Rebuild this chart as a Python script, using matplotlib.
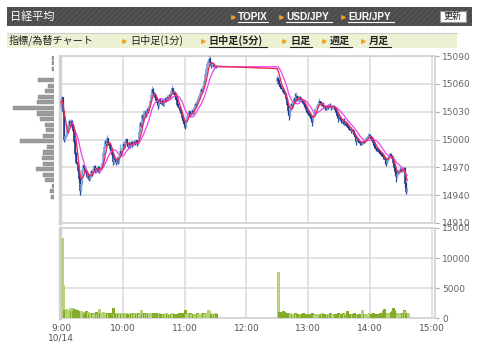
import matplotlib
matplotlib.use("Agg")
import matplotlib.pyplot as plt
import numpy as np
import pandas as pd
from matplotlib.patches import Rectangle

plt.rcParams['font.family'] = ['DejaVu Sans', 'Noto Sans CJK JP']

# 1-minute closes, 9:00 - 11:30
am_close = [15040, 15045, 15030, 15000, 15003, 15005, 15010, 15015, 15020, 15016,
            15020, 15014, 15009, 14998, 14985, 14975, 14966, 14958, 14945, 14952,
            14967, 14972, 14970, 14966, 14964, 14960, 14962, 14957, 14960, 14966,
            14963, 14968, 14971, 14966, 14969, 14967, 14970, 14966, 14968, 14970,
            14974, 14985, 14992, 14998, 14995, 15001, 14996, 14994, 14990, 14984,
            14976, 14980, 14978, 14975, 14980, 14976, 14982, 14987, 14985, 14990,
            14995, 14992, 14998, 15000, 14995, 14992, 14996, 14993, 14997, 14994,
            14995, 14998, 14996, 14999, 14995, 14997, 15008, 15018, 15015, 15026,
            15022, 15030, 15026, 15033, 15031, 15036, 15041, 15048, 15054, 15050,
            15049, 15045, 15043, 15040, 15036, 15043, 15041, 15039, 15042, 15038,
            15041, 15044, 15042, 15046, 15045, 15048, 15047, 15052, 15055, 15051,
            15050, 15046, 15043, 15038, 15035, 15031, 15029, 15024, 15020, 15017,
            15015, 15020, 15025, 15028, 15030, 15026, 15027, 15031, 15030, 15034,
            15038, 15037, 15041, 15044, 15047, 15050, 15054, 15052, 15057, 15063,
            15070, 15076, 15081, 15084, 15087, 15083, 15079, 15081, 15078, 15079,
            15078]
am_up = [5, 2, 1, 2, 1, 1, 2, 1, 2, 1,
         2, 1, 1, 1, 1, 1, 1, 2, 1, 1,
         2, 1, 2, 1, 1, 2, 1, 1, 2, 1,
         1, 2, 1, 2, 1, 1, 2, 1, 1, 2,
         1, 3, 4, 3, 2, 4, 1, 1, 2, 1,
         1, 2, 1, 1, 2, 1, 2, 8, 2, 1,
         2, 1, 3, 2, 1, 1, 2, 1, 2, 1,
         1, 2, 1, 2, 1, 1, 3, 2, 1, 2,
         1, 2, 1, 2, 1, 2, 2, 4, 4, 1,
         1, 1, 2, 1, 1, 2, 1, 1, 2, 1,
         1, 2, 1, 2, 1, 2, 1, 4, 4, 1,
         1, 1, 2, 1, 1, 1, 2, 1, 1, 1,
         1, 2, 2, 1, 2, 1, 1, 2, 1, 2,
         2, 1, 2, 1, 2, 2, 2, 1, 2, 2,
         2, 2, 3, 3, 4, 2, 1, 2, 1, 1,
         1]
am_dn = [3, 2, 3, 3, 2, 1, 1, 2, 1, 2,
         1, 2, 1, 2, 2, 1, 2, 4, 5, 2,
         1, 1, 2, 1, 2, 1, 2, 2, 1, 1,
         2, 1, 1, 2, 1, 2, 1, 2, 1, 1,
         1, 1, 2, 1, 2, 1, 2, 1, 2, 2,
         3, 2, 1, 2, 1, 2, 1, 1, 2, 1,
         1, 2, 1, 1, 2, 2, 1, 2, 1, 2,
         1, 1, 2, 1, 2, 1, 1, 1, 2, 1,
         2, 1, 2, 1, 2, 1, 1, 1, 1, 2,
         1, 2, 1, 2, 3, 1, 2, 1, 2, 2,
         2, 1, 2, 1, 1, 1, 2, 1, 1, 2,
         1, 2, 1, 2, 1, 2, 1, 2, 2, 3,
         4, 1, 1, 2, 1, 2, 1, 1, 2, 1,
         1, 2, 1, 1, 1, 1, 1, 2, 1, 1,
         1, 1, 1, 1, 1, 2, 2, 1, 2, 1,
         1]
am_vol = [13400, 5500, 1300, 1200, 1500, 1400, 1100, 1300, 1700, 1200,
          1600, 1100, 1500, 1300, 1200, 1400, 900, 1000, 1200, 1100,
          800, 1000, 700, 900, 1200, 800, 1000, 700, 900, 800,
          900, 700, 800, 1000, 700, 800, 1500, 900, 800, 700,
          1000, 700, 900, 600, 800, 700, 900, 600, 800, 700,
          1600, 600, 900, 700, 800, 700, 700, 800, 600, 700,
          800, 600, 700, 900, 600, 700, 800, 600, 700, 900,
          600, 800, 700, 600, 900, 700, 800, 1400, 700, 800,
          800, 600, 700, 900, 700, 800, 600, 700, 900, 800,
          700, 600, 800, 700, 600, 800, 700, 600, 500, 700,
          600, 800, 700, 600, 500, 700, 600, 800, 700, 600,
          700, 500, 600, 700, 800, 600, 700, 900, 600, 700,
          1400, 700, 600, 900, 700, 800, 600, 500, 700, 600,
          700, 800, 600, 500, 700, 600, 800, 900, 700, 600,
          800, 700, 1400, 1100, 900, 700, 500, 600, 700, 800,
          600]
am_first_open = 15035

# 1-minute closes, 12:30 - 14:36
pm_close = [15066, 15063, 15060, 15057, 15055, 15052, 15050, 15049, 15044, 15038,
            15031, 15026, 15032, 15038, 15036, 15040, 15044, 15041, 15047, 15045,
            15042, 15046, 15044, 15043, 15041, 15040, 15037, 15035, 15032, 15030,
            15028, 15027, 15025, 15022, 15020, 15026, 15030, 15033, 15036, 15038,
            15041, 15040, 15037, 15038, 15036, 15035, 15034, 15033, 15036, 15035,
            15037, 15036, 15034, 15035, 15036, 15035, 15032, 15030, 15026, 15023,
            15024, 15022, 15020, 15019, 15021, 15017, 15018, 15016, 15015, 15013,
            15011, 15009, 15010, 15008, 15005, 15003, 14998, 15001, 14999, 14997,
            14996, 14995, 14997, 14998, 14997, 14999, 15001, 15002, 15004, 15005,
            15003, 15001, 14999, 14996, 14993, 14991, 14990, 14989, 14988, 14987,
            14985, 14984, 14983, 14981, 14978, 14975, 14978, 14981, 14983, 14984,
            14982, 14980, 14975, 14970, 14965, 14961, 14963, 14965, 14967, 14968,
            14966, 14968, 14967, 14969, 14952, 14944, 14946]
pm_up = [3, 1, 2, 1, 1, 2, 1, 1, 1, 2,
         1, 1, 2, 2, 1, 2, 2, 6, 4, 1,
         2, 1, 1, 2, 1, 1, 1, 2, 1, 1,
         1, 1, 2, 1, 1, 1, 2, 1, 2, 2,
         4, 1, 2, 1, 2, 1, 1, 2, 1, 2,
         1, 2, 1, 2, 1, 1, 1, 2, 1, 1,
         1, 1, 2, 1, 1, 2, 1, 2, 1, 1,
         1, 2, 1, 1, 2, 1, 2, 1, 1, 2,
         1, 2, 1, 1, 2, 1, 2, 1, 3, 2,
         1, 1, 2, 1, 1, 2, 1, 1, 2, 1,
         1, 2, 1, 1, 1, 2, 2, 1, 2, 1,
         1, 1, 2, 1, 1, 2, 1, 2, 1, 2,
         1, 2, 2, 1, 1, 2, 2]
pm_dn = [2, 3, 2, 2, 1, 2, 1, 2, 3, 2,
         5, 5, 2, 1, 2, 1, 2, 1, 1, 2,
         1, 2, 1, 1, 2, 1, 2, 1, 2, 1,
         2, 1, 2, 3, 5, 1, 1, 2, 1, 1,
         1, 2, 1, 1, 2, 1, 2, 1, 1, 2,
         1, 1, 2, 1, 2, 1, 2, 1, 3, 4,
         2, 1, 2, 1, 3, 1, 2, 1, 2, 1,
         1, 2, 1, 2, 1, 2, 4, 1, 2, 1,
         2, 1, 1, 2, 1, 1, 1, 2, 1, 1,
         1, 2, 1, 2, 2, 1, 2, 1, 1, 2,
         1, 2, 1, 2, 4, 4, 1, 2, 1, 1,
         2, 1, 2, 3, 4, 7, 2, 1, 2, 1,
         1, 2, 1, 2, 3, 3, 1]
pm_vol = [7700, 1000, 800, 1000, 600, 1100, 1000, 600, 700, 800,
          700, 600, 800, 700, 500, 600, 700, 800, 600, 700,
          600, 700, 500, 600, 800, 600, 700, 500, 600, 700,
          600, 700, 500, 800, 600, 500, 700, 600, 500, 600,
          700, 500, 600, 800, 600, 700, 500, 600, 700, 500,
          600, 900, 700, 600, 500, 600, 700, 500, 900, 600,
          500, 600, 700, 800, 600, 500, 700, 1100, 600, 500,
          600, 500, 700, 600, 800, 500, 700, 600, 500, 700,
          600, 500, 1400, 700, 600, 700, 500, 600, 800, 700,
          600, 700, 900, 600, 700, 500, 600, 700, 600, 800,
          700, 900, 1100, 1500, 800, 600, 700, 900, 800, 700,
          1000, 1200, 1700, 1300, 800, 700, 600, 900, 800, 700,
          800, 600, 1400, 1200, 800, 700, 900]
pm_first_open = 15062

# price-volume profile (left side)
profile_price = [15088, 15082, 15076, 15070, 15064, 15058, 15052, 15046, 15040,
                 15034, 15028, 15022, 15016, 15010, 15004, 14998, 14992, 14986,
                 14980, 14974, 14968, 14962, 14956, 14950, 14944, 14938]
profile_vol = [2.6, 2.6, 2.6, 0, 16.6, 6, 9, 16, 17.6,
               41.6, 17.6, 14, 9, 8, 11.6, 34, 7.6, 11,
               12.6, 11, 18.6, 11, 9, 2.6, 4.3, 3.3]

hour_ticks = [0, 60, 120, 180, 240, 300, 360]
hour_labels = ["9:00\n10/14", "10:00", "11:00", "12:00", "13:00", "14:00", "15:00"]
price_ticks = [14910, 14940, 14970, 15000, 15030, 15060, 15090]
vol_ticks = [0, 5000, 10000, 15000]

# ---- derived series ----
am_t = np.arange(len(am_close))
pm_t = 210 + np.arange(len(pm_close))
t = np.concatenate([am_t, pm_t])
close = np.array(am_close + pm_close, dtype=float)
opn = np.array([am_first_open] + am_close[:-1] + [pm_first_open] + pm_close[:-1], dtype=float)
high = np.maximum(opn, close) + np.array(am_up + pm_up)
low = np.minimum(opn, close) - np.array(am_dn + pm_dn)
vol = np.array(am_vol + pm_vol)
rising = close >= opn

s = pd.Series(close)
ma_short = s.rolling(5, min_periods=1).mean()
ma_long = s.rolling(12).mean()

W, H = 480, 356
fig = plt.figure(figsize=(4.8, 3.56), dpi=100)


def box(x0, y0, x1, y1):
    return [x0 / W, 1 - y1 / H, (x1 - x0) / W, (y1 - y0) / H]


grid_c = '#dadada'
spine_c = '#d2d2d2'
tick_c = '#666666'

# header overlay in pixel coordinates
ax0 = fig.add_axes([0, 0, 1, 1])
ax0.set_xlim(0, W)
ax0.set_ylim(H, 0)
ax0.axis('off')
cjk = ['Noto Sans CJK JP', 'DejaVu Sans']

ax0.add_patch(Rectangle((7, 7), 465, 19, facecolor='#4b4b4b', edgecolor='none'))
ax0.add_patch(Rectangle((7, 7), 465, 19, fill=False, hatch='//////', edgecolor='#575757', linewidth=0))
ax0.text(10, 16.5, "日経平均", color='white', fontsize=8, va='center', family=cjk)
orange = '#f0a020'
for tx, label, x1 in [(238, "TOPIX", 268), (286, "USD/JPY", 332), (348, "EUR/JPY", 394)]:
    ax0.plot([tx - 5], [17], marker='>', ms=2.5, color=orange, mec=orange)
    ax0.text(tx, 16.5, label, color='white', fontsize=7.2, fontweight='bold', va='center',
             family=['Liberation Sans', 'DejaVu Sans'])
    ax0.plot([tx, x1], [21.5, 21.5], color='white', lw=0.8)
ax0.add_patch(Rectangle((439.5, 11), 26.5, 11, facecolor='white', edgecolor='#999999', lw=0.8))
ax0.text(452.7, 16.7, "更新", color='#222222', fontsize=6.5, ha='center', va='center', family=cjk)

ax0.add_patch(Rectangle((7, 33), 450, 15, facecolor='#eaf2d3', edgecolor='none'))
ax0.plot([7, 457], [32.5, 32.5], color='#cfcfcf', lw=0.8)
ax0.text(9, 40.5, "指標/為替チャート", color='#222222', fontsize=7.3, va='center', family=cjk)
row2 = [(130, "日中足(1分)", None), (209, "日中足(5分)", 267), (290, "日足", 312),
        (330, "週足", 352), (369, "月足", 391)]
for tx, label, x1 in row2:
    ax0.plot([tx - 6], [40.5], marker='>', ms=2.5, color=orange, mec=orange)
    bold = x1 is not None
    ax0.text(tx, 40.5, label, color='#222222', fontsize=7.3, va='center', family=cjk,
             fontweight='bold' if bold else 'normal')
    if bold:
        ax0.plot([tx, x1], [46.5, 46.5], color='#222222', lw=0.8)

# main price chart
ax = fig.add_axes(box(60, 56, 435, 223))
ax.vlines(t, low, high, colors=np.where(rising, '#8aaee0', '#2a4a9a'), lw=0.9, zorder=3)
ax.vlines(t, np.minimum(opn, close) - 0.3, np.maximum(opn, close) + 0.3,
          colors=np.where(rising, '#7aa0d8', '#1a3688'), lw=1.1, zorder=3)
ax.plot(t, ma_long, color='#f040f0', lw=0.9, zorder=4)
ax.plot(t, ma_short, color='#e62e5c', lw=1.0, zorder=5)
ax.set_xlim(-1, 363)
ax.set_ylim(14910, 15090)
ax.set_xticks(hour_ticks)
ax.set_xticklabels([])
ax.set_yticks(price_ticks)
ax.yaxis.tick_right()
ax.tick_params(axis='y', length=3, width=0.8, color='#aaaaaa', labelcolor=tick_c, labelsize=6.5, pad=2)
ax.tick_params(axis='x', length=0)
ax.grid(True, color=grid_c, lw=1.1)
ax.set_axisbelow(True)
for sp in ax.spines.values():
    sp.set_color(spine_c)
    sp.set_linewidth(1.2)
ax.spines['left'].set_linewidth(2.5)

# price-volume profile
axp = fig.add_axes(box(9.3, 56, 54.3, 223))
axp.barh(profile_price, profile_vol, height=4.4, color='#9b9b9b', edgecolor='#8a8a8a', lw=0.3)
axp.set_xlim(45, 0)
axp.set_ylim(14910, 15090)
axp.axis('off')

# volume chart
axv = fig.add_axes(box(60, 228, 435, 318))
axv.vlines(t + 0.5, 0, vol, colors=np.where(rising, '#b4d27a', '#84ac2a'), lw=0.75,
           antialiased=False, zorder=3)
axv.set_xlim(-1, 363)
axv.set_ylim(0, 15000)
axv.set_xticks(hour_ticks)
axv.set_xticklabels(hour_labels)
axv.set_yticks(vol_ticks)
axv.yaxis.tick_right()
axv.tick_params(axis='y', length=3, width=0.8, color='#aaaaaa', labelcolor=tick_c, labelsize=6.5, pad=2)
axv.tick_params(axis='x', length=0, labelcolor='#555555', labelsize=6.5, pad=4)
axv.grid(True, color=grid_c, lw=1.1)
axv.set_axisbelow(True)
for sp in axv.spines.values():
    sp.set_color(spine_c)
    sp.set_linewidth(1.2)
axv.spines['left'].set_linewidth(2.5)

fig.savefig("out.png", dpi=100)
